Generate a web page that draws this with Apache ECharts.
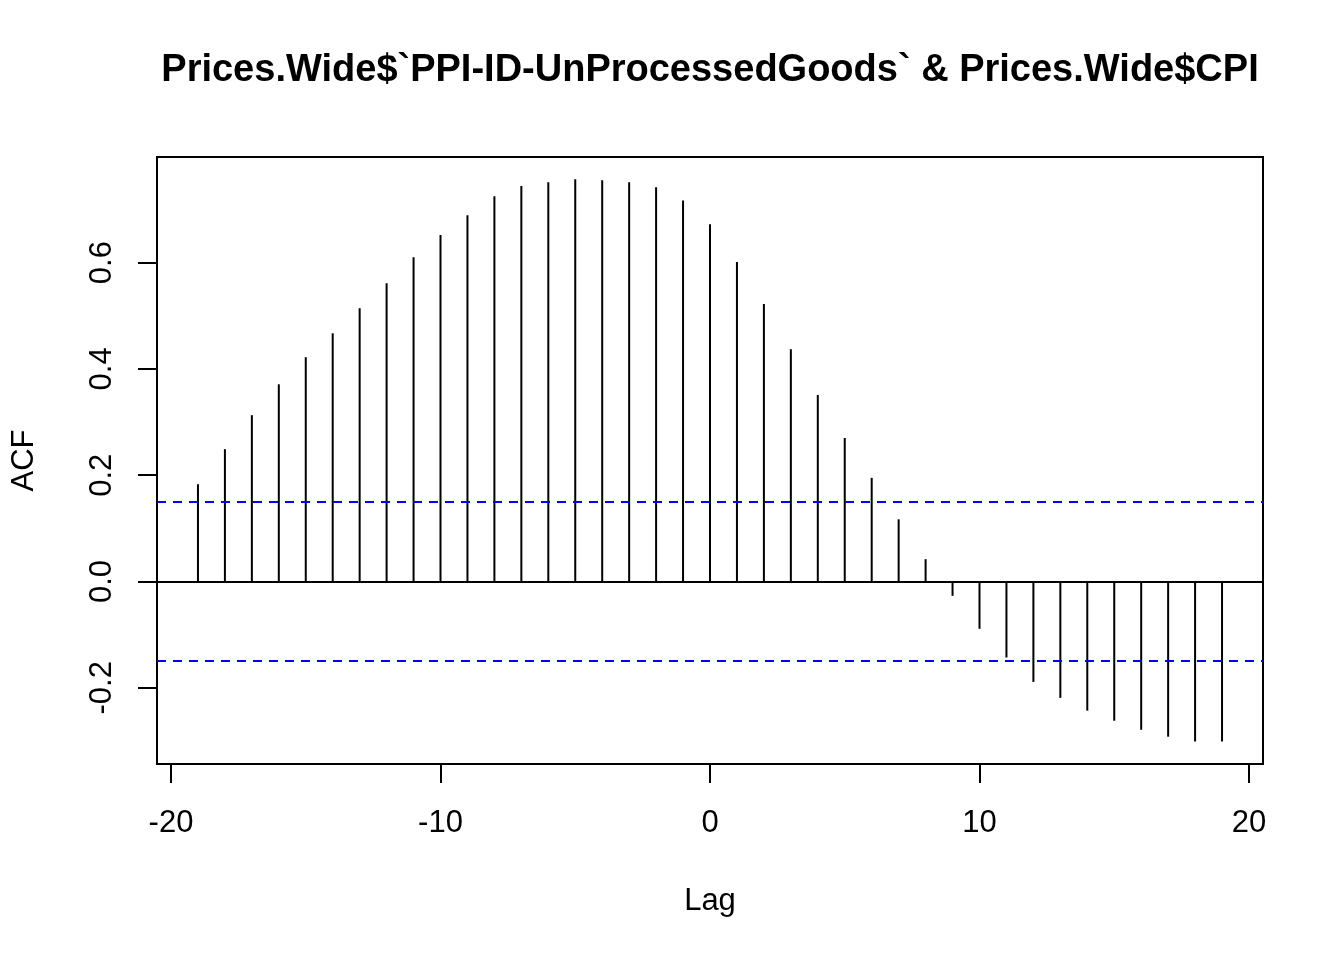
<!DOCTYPE html>
<html>
<head>
<meta charset="utf-8">
<title>CCF</title>
<script src="https://cdn.jsdelivr.net/npm/echarts@6/dist/echarts.min.js"></script>
<style>
  html, body { margin: 0; padding: 0; background: #fff; }
  #main { width: 1344px; height: 960px; }
</style>
</head>
<body>
<div id="main"></div>
<script>
const FONT = "'Liberation Sans', Arial, sans-serif";

// lags shown in the plot
const lags = [-19, -18, -17, -16, -15, -14, -13, -12, -11, -10, -9, -8, -7, -6, -5, -4, -3, -2, -1,
  0, 1, 2, 3, 4, 5, 6, 7, 8, 9, 10, 11, 12, 13, 14, 15, 16, 17, 18, 19];

// cross-correlation
const acfValues = [0.183, 0.249, 0.313, 0.371, 0.422, 0.467, 0.514, 0.561, 0.610, 0.652,
  0.689, 0.725, 0.744, 0.751, 0.757, 0.755, 0.751, 0.742, 0.717,
  0.672, 0.601, 0.522, 0.437, 0.351, 0.270, 0.195, 0.117, 0.042, -0.027, -0.089,
  -0.143, -0.189, -0.219, -0.243, -0.262, -0.279, -0.292, -0.301, -0.301];

// confidence bound (blue dashed)
const ciBound = 0.1485;

const xTicks = [-20, -10, 0, 10, 20];
const yTicks = [-0.2, 0.0, 0.2, 0.4, 0.6];

const chart = echarts.init(document.getElementById('main'));

const option = {
  animation: false,
  backgroundColor: '#fff',
  title: {
    text: 'Prices.Wide$`PPI-ID-UnProcessedGoods` & Prices.Wide$CPI',
    left: 705,
    top: 47,
    textAlign: 'center',
    textStyle: { fontFamily: FONT, fontWeight: 'bold', fontSize: 38, color: '#000' }
  },
  grid: {
    left: 157, top: 157, width: 1106, height: 607,
    show: true, borderColor: '#000', borderWidth: 2, backgroundColor: 'transparent'
  },
  xAxis: {
    type: 'value',
    min: -20.52, max: 20.52,
    name: 'Lag',
    nameLocation: 'middle',
    nameGap: 122,
    nameTextStyle: { fontFamily: FONT, fontSize: 31, color: '#000' },
    axisLine: { show: false, onZero: false },
    splitLine: { show: false },
    axisTick: { show: true, customValues: xTicks, length: 19, lineStyle: { color: '#000', width: 2 } },
    axisLabel: { customValues: xTicks, fontFamily: FONT, fontSize: 31, color: '#000', margin: 44 }
  },
  yAxis: {
    type: 'value',
    min: -0.3434, max: 0.7987,
    name: 'ACF',
    nameLocation: 'middle',
    nameRotate: 90,
    nameGap: 117,
    nameTextStyle: { fontFamily: FONT, fontSize: 31, color: '#000' },
    axisLine: { show: false, onZero: false },
    splitLine: { show: false },
    axisTick: { show: true, customValues: yTicks, length: 19, lineStyle: { color: '#000', width: 2 } },
    axisLabel: {
      customValues: yTicks, rotate: 90, fontFamily: FONT, fontSize: 31, color: '#000', margin: 39,
      formatter: v => v.toFixed(1)
    }
  },
  series: [
    {
      type: 'bar',
      barWidth: 2,
      silent: true,
      itemStyle: { color: '#000' },
      data: lags.map((l, i) => [l, acfValues[i]]),
      markLine: {
        silent: true,
        symbol: ['none', 'none'],
        label: { show: false },
        data: [
          { yAxis: 0, lineStyle: { color: '#000', width: 2, type: 'solid' } },
          { yAxis: ciBound, lineStyle: { color: '#0000ff', width: 2, type: [9, 7] } },
          { yAxis: -ciBound, lineStyle: { color: '#0000ff', width: 2, type: [9, 7] } }
        ]
      }
    }
  ]
};

chart.setOption(option);
window.addEventListener('resize', () => { chart.resize(); });
</script>
</body>
</html>
